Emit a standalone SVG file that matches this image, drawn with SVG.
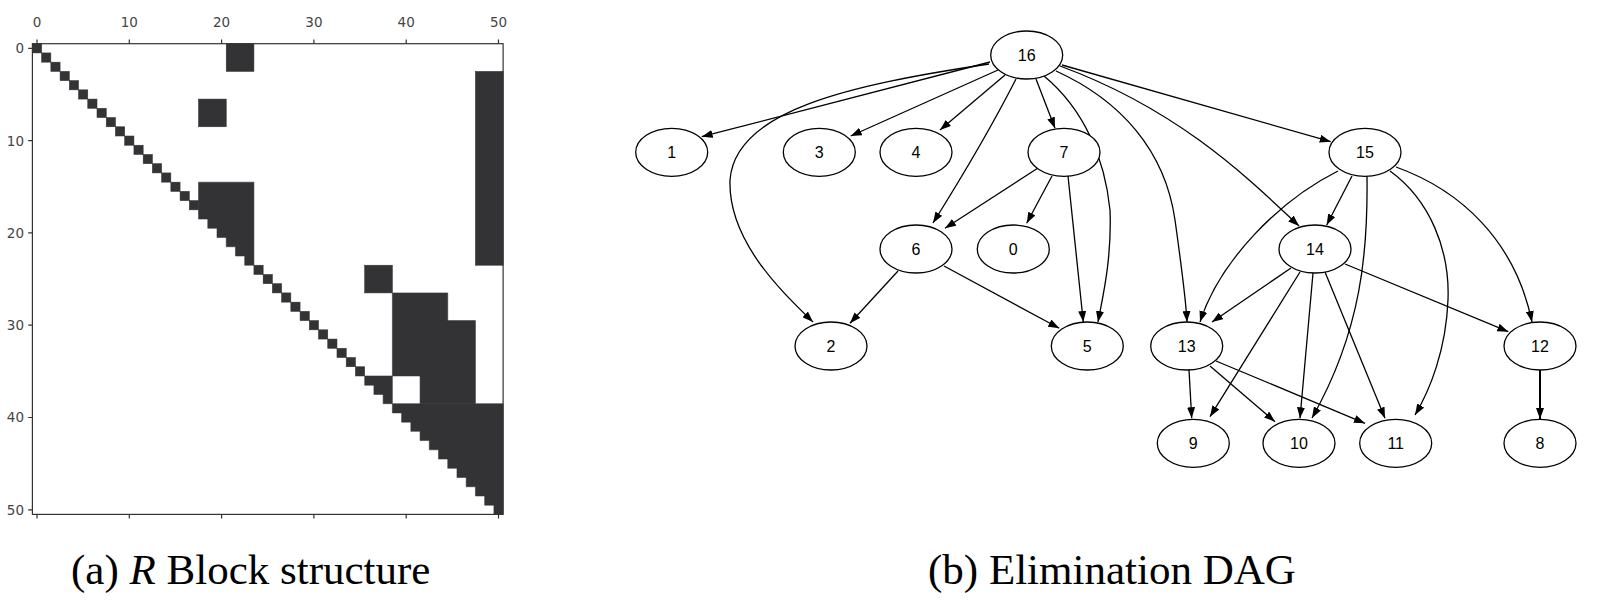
<svg xmlns="http://www.w3.org/2000/svg" width="1620" height="610" viewBox="0 0 1620 610">
<style>
.cell{fill:#333336;stroke:#333336;stroke-width:0.06}
.ax{stroke:#333;stroke-width:1.2;fill:none}
.tl{font-family:"DejaVu Sans",sans-serif;font-size:13.5px;fill:#444}
.node ellipse{fill:#fff;stroke:#000;stroke-width:1.3}
.node text{font-family:"Liberation Sans",Arial,sans-serif;font-size:16px;text-anchor:middle}
.e{stroke:#000;stroke-width:1.3;fill:none;marker-end:url(#ah)}
.cap{font-family:"Liberation Serif","Times New Roman",serif;font-size:43px;fill:#000}
</style>
<defs>
<marker id="ah" markerUnits="userSpaceOnUse" markerWidth="11" markerHeight="8" refX="11" refY="4" orient="auto"><path d="M0,0 L11,4 L0,8 z" fill="#000"/></marker>
</defs>
<rect width="1620" height="610" fill="#fff"/>
<g id="matrix">
<g transform="translate(32.4,43.7) scale(9.23)" class="cell">
<rect x="0" y="0" width="1" height="1"/><rect x="1" y="1" width="1" height="1"/><rect x="2" y="2" width="1" height="1"/><rect x="3" y="3" width="1" height="1"/><rect x="4" y="4" width="1" height="1"/><rect x="5" y="5" width="1" height="1"/><rect x="6" y="6" width="1" height="1"/><rect x="7" y="7" width="1" height="1"/><rect x="8" y="8" width="1" height="1"/><rect x="9" y="9" width="1" height="1"/><rect x="10" y="10" width="1" height="1"/><rect x="11" y="11" width="1" height="1"/><rect x="12" y="12" width="1" height="1"/><rect x="13" y="13" width="1" height="1"/><rect x="14" y="14" width="1" height="1"/><rect x="15" y="15" width="1" height="1"/><rect x="16" y="16" width="1" height="1"/><rect x="17" y="17" width="1" height="1"/>
<rect x="24" y="24" width="1" height="1"/><rect x="25" y="25" width="1" height="1"/><rect x="26" y="26" width="1" height="1"/><rect x="27" y="27" width="1" height="1"/><rect x="28" y="28" width="1" height="1"/><rect x="29" y="29" width="1" height="1"/><rect x="30" y="30" width="1" height="1"/><rect x="31" y="31" width="1" height="1"/><rect x="32" y="32" width="1" height="1"/><rect x="33" y="33" width="1" height="1"/><rect x="34" y="34" width="1" height="1"/><rect x="35" y="35" width="1" height="1"/>
<rect x="21" y="0" width="3" height="3"/>
<rect x="18" y="6" width="3" height="3"/>
<rect x="48" y="3" width="3" height="21"/>
<polygon points="18,15 24,15 24,24 23,24 23,23 22,23 22,22 21,22 21,21 20,21 20,20 19,20 19,19 18,19"/>
<rect x="36" y="24" width="3" height="3"/>
<polygon points="39,27 45,27 45,30 48,30 48,39 42,39 42,36 39,36"/>
<polygon points="36,36 39,36 39,39 38,39 38,38 37,38 37,37 36,37"/>
<polygon points="39,39 51,39 51,51 50,51 50,50 49,50 49,49 48,49 48,48 47,48 47,47 46,47 46,46 45,46 45,45 44,45 44,44 43,44 43,43 42,43 42,42 41,42 41,41 40,41 40,40 39,40"/>
</g>
<rect x="32.4" y="43.7" width="470.7" height="470.7" class="ax"/>
<path class="ax" d="M37,43.7V39.5 M129.3,43.7V39.5 M221.6,43.7V39.5 M313.9,43.7V39.5 M406.2,43.7V39.5 M498.5,43.7V39.5 M37,514.4V518.6 M129.3,514.4V518.6 M221.6,514.4V518.6 M313.9,514.4V518.6 M406.2,514.4V518.6 M498.5,514.4V518.6 M32.4,48.3H28.2 M32.4,140.6H28.2 M32.4,232.9H28.2 M32.4,325.2H28.2 M32.4,417.5H28.2 M32.4,509.8H28.2"/>
<g class="tl" text-anchor="middle">
<text x="37" y="27">0</text><text x="129.3" y="27">10</text><text x="221.6" y="27">20</text><text x="313.9" y="27">30</text><text x="406.2" y="27">40</text><text x="498.5" y="27">50</text>
</g>
<g class="tl" text-anchor="end">
<text x="24" y="53">0</text><text x="24" y="145.5">10</text><text x="24" y="237.8">20</text><text x="24" y="330">30</text><text x="24" y="422.3">40</text><text x="24" y="514.6">50</text>
</g>
</g>
<g id="connectors">
<line class="e" x1="990" y1="62" x2="701.7" y2="136.7"/>
<path class="e" d="M989,64 C850,85 735,110 730,180 C728,240 780,290 813,322"/>
<line class="e" x1="998" y1="70" x2="850.7" y2="136"/>
<line class="e" x1="1005" y1="75" x2="940" y2="130"/>
<path class="e" d="M1016,79 C990,130 960,180 933,223"/>
<line class="e" x1="1036" y1="79" x2="1055" y2="128.3"/>
<path class="e" d="M1044,76 C1085,110 1105,160 1110,210 C1112,260 1102,300 1098,322"/>
<path class="e" d="M1056,71 C1120,100 1165,150 1175,220 C1182,270 1186,300 1187,322"/>
<path class="e" d="M1060,66 C1180,110 1250,180 1299,226"/>
<line class="e" x1="1062" y1="65" x2="1330.7" y2="141.7"/>
<line class="e" x1="1038" y1="168" x2="945" y2="228.3"/>
<line class="e" x1="1052" y1="176" x2="1026.7" y2="223.3"/>
<line class="e" x1="1068" y1="176" x2="1083.3" y2="322"/>
<line class="e" x1="898" y1="271" x2="850" y2="323.3"/>
<line class="e" x1="944" y1="266" x2="1059.3" y2="328.3"/>
<line class="e" x1="1352" y1="176" x2="1326.7" y2="225"/>
<path class="e" d="M1338,171 C1280,200 1220,260 1200,322"/>
<path class="e" d="M1367,176 C1368,250 1362,330 1312,418"/>
<path class="e" d="M1390,171 C1430,200 1450,250 1448,300 C1446,350 1430,390 1415,415"/>
<path class="e" d="M1396,167 C1460,190 1515,240 1532,322"/>
<line class="e" x1="1291" y1="268" x2="1212" y2="322"/>
<line class="e" x1="1300" y1="272" x2="1210" y2="416.7"/>
<line class="e" x1="1313" y1="273" x2="1300" y2="418.3"/>
<line class="e" x1="1325" y1="272" x2="1385" y2="418.3"/>
<line class="e" x1="1345" y1="264" x2="1508.3" y2="331.7"/>
<line class="e" x1="1189" y1="370" x2="1191.7" y2="418.3"/>
<line class="e" x1="1210" y1="366" x2="1275" y2="421.7"/>
<line class="e" x1="1216" y1="361" x2="1365" y2="423.3"/>
<line class="e" x1="1540" y1="370" x2="1540" y2="419" style="stroke-width:2"/>
</g>
<g id="n16" class="node"><ellipse cx="1026.7" cy="55" rx="36" ry="24"/><text x="1026.7" y="60.5">16</text></g>
<g id="n1" class="node"><ellipse cx="671.7" cy="152.3" rx="36" ry="24"/><text x="671.7" y="157.8">1</text></g>
<g id="n3" class="node"><ellipse cx="819.3" cy="152.3" rx="36" ry="24"/><text x="819.3" y="157.8">3</text></g>
<g id="n4" class="node"><ellipse cx="916" cy="152.3" rx="36" ry="24"/><text x="916" y="157.8">4</text></g>
<g id="n7" class="node"><ellipse cx="1064" cy="152.3" rx="36" ry="24"/><text x="1064" y="157.8">7</text></g>
<g id="n15" class="node"><ellipse cx="1365" cy="152.3" rx="36" ry="24"/><text x="1365" y="157.8">15</text></g>
<g id="n6" class="node"><ellipse cx="916" cy="249" rx="36" ry="24"/><text x="916" y="254.5">6</text></g>
<g id="n0" class="node"><ellipse cx="1013.3" cy="249" rx="36" ry="24"/><text x="1013.3" y="254.5">0</text></g>
<g id="n14" class="node"><ellipse cx="1315" cy="249" rx="36" ry="24"/><text x="1315" y="254.5">14</text></g>
<g id="n2" class="node"><ellipse cx="831" cy="346" rx="36" ry="24"/><text x="831" y="351.5">2</text></g>
<g id="n5" class="node"><ellipse cx="1087.3" cy="346" rx="36" ry="24"/><text x="1087.3" y="351.5">5</text></g>
<g id="n13" class="node"><ellipse cx="1186.7" cy="346" rx="36" ry="24"/><text x="1186.7" y="351.5">13</text></g>
<g id="n12" class="node"><ellipse cx="1540" cy="346" rx="36" ry="24"/><text x="1540" y="351.5">12</text></g>
<g id="n9" class="node"><ellipse cx="1193.3" cy="443.3" rx="36" ry="24"/><text x="1193.3" y="448.8">9</text></g>
<g id="n10" class="node"><ellipse cx="1299" cy="443.3" rx="36" ry="24"/><text x="1299" y="448.8">10</text></g>
<g id="n11" class="node"><ellipse cx="1395.7" cy="443.3" rx="36" ry="24"/><text x="1395.7" y="448.8">11</text></g>
<g id="n8" class="node"><ellipse cx="1540" cy="443.3" rx="36" ry="24"/><text x="1540" y="448.8">8</text></g>
<text class="cap" x="71" y="584">(a) <tspan font-style="italic">R</tspan> Block structure</text>
<text class="cap" x="928" y="584">(b) Elimination DAG</text>
</svg>
